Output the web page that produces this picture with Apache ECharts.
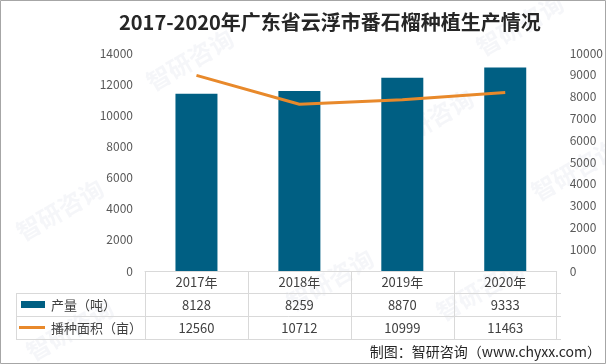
<!DOCTYPE html>
<html>
<head>
<meta charset="utf-8">
<script src="https://cdn.jsdelivr.net/npm/echarts@6/dist/echarts.min.js"></script>
<style>html,body{margin:0;padding:0;background:#fff;}#c{width:606px;height:364px;}</style>
</head>
<body>
<div id="c"></div>
<script>
const title = '2017-2020年广东省云浮市番石榴种植生产情况';
const categories = ['2017年', '2018年', '2019年', '2020年'];
const outputValues = [8128, 8259, 8870, 9333];
const areaValues = [12560, 10712, 10999, 11463];
const seriesNames = ['产量（吨）', '播种面积（亩）'];
const source = '制图：智研咨询（www.chyxx.com）';

const BAR = '#005f83';
const LINE = '#e8892b';
const GRIDC = '#d9d9d9';
const FONT = '"Noto Sans CJK SC", "Noto Sans", sans-serif';

const chart = echarts.init(document.getElementById('c'), null, {renderer: 'canvas'});

const watermarks = [
  [190, 60], [520, 25], [430, 120], [60, 210], [70, 330], [330, 280], [575, 170], [480, 290]
].map(function (p) {
  return {
    type: 'text', x: p[0], y: p[1], rotation: Math.PI / 6, silent: true, z: 0,
    style: {text: '智研咨询', font: 'bold 24px ' + FONT, fill: 'rgba(210,216,228,0.22)', align: 'center', verticalAlign: 'middle'}
  };
});

function plain(v) { return String(v); }

chart.setOption({
  backgroundColor: '#fff',
  animation: false,
  title: {
    text: title, left: 114, top: 7,
    textStyle: {fontFamily: FONT, fontSize: 20, fontWeight: 'bold', color: '#262626'}
  },
  grid: {left: 145, right: 45, top: 53, bottom: 93, containLabel: false},
  xAxis: {
    type: 'category', data: categories,
    axisLine: {lineStyle: {color: GRIDC, width: 1}},
    axisTick: {show: true, length: 68, lineStyle: {color: GRIDC}},
    axisLabel: {
      margin: 0, fontFamily: FONT, fontSize: 13, color: '#404040', lineHeight: 23,
      formatter: function (v, i) {
        return v + '\n' + outputValues[i] + '\n' + areaValues[i];
      }
    }
  },
  yAxis: [
    {
      type: 'value', min: 0, max: 14000, interval: 2000,
      axisLine: {show: false}, axisTick: {show: false}, splitLine: {show: false},
      axisLabel: {margin: 12, color: '#595959', fontFamily: FONT, fontSize: 12, formatter: plain}
    },
    {
      type: 'value', min: 0, max: 10000, interval: 1000,
      axisLine: {show: false}, axisTick: {show: false}, splitLine: {show: false},
      axisLabel: {margin: 13, color: '#595959', fontFamily: FONT, fontSize: 12, formatter: plain}
    }
  ],
  series: [
    {
      name: seriesNames[0], type: 'bar', yAxisIndex: 1, data: outputValues,
      barWidth: 42, itemStyle: {color: BAR}, z: 2
    },
    {
      name: seriesNames[1], type: 'line', yAxisIndex: 0, data: areaValues,
      symbol: 'none', lineStyle: {color: LINE, width: 3}, itemStyle: {color: LINE}, z: 3
    }
  ],
  graphic: watermarks.concat([
    {type: 'rect', shape: {x: 0.5, y: 0.5, width: 605, height: 363}, style: {fill: 'none', stroke: '#a6a6a6', lineWidth: 1}, silent: true},
    {type: 'line', shape: {x1: 16, y1: 293.5, x2: 561, y2: 293.5}, style: {stroke: GRIDC, lineWidth: 1}},
    {type: 'line', shape: {x1: 16, y1: 316.5, x2: 561, y2: 316.5}, style: {stroke: GRIDC, lineWidth: 1}},
    {type: 'line', shape: {x1: 16, y1: 339.5, x2: 561, y2: 339.5}, style: {stroke: GRIDC, lineWidth: 1}},
    {type: 'line', shape: {x1: 16.5, y1: 293, x2: 16.5, y2: 339}, style: {stroke: GRIDC, lineWidth: 1}},
    {type: 'rect', shape: {x: 21, y: 301, width: 24, height: 7}, style: {fill: BAR}},
    {type: 'line', shape: {x1: 19, y1: 327.5, x2: 45, y2: 327.5}, style: {stroke: LINE, lineWidth: 3}},
    {type: 'text', x: 51, y: 305, style: {text: seriesNames[0], font: '13px ' + FONT, fill: '#404040', verticalAlign: 'middle'}},
    {type: 'text', x: 51, y: 328, style: {text: seriesNames[1], font: '13px ' + FONT, fill: '#404040', verticalAlign: 'middle'}},
    {type: 'text', x: 601, y: 352, style: {text: source, font: '14px ' + FONT, fill: '#262626', align: 'right', verticalAlign: 'middle'}}
  ])
});
</script>
</body>
</html>
